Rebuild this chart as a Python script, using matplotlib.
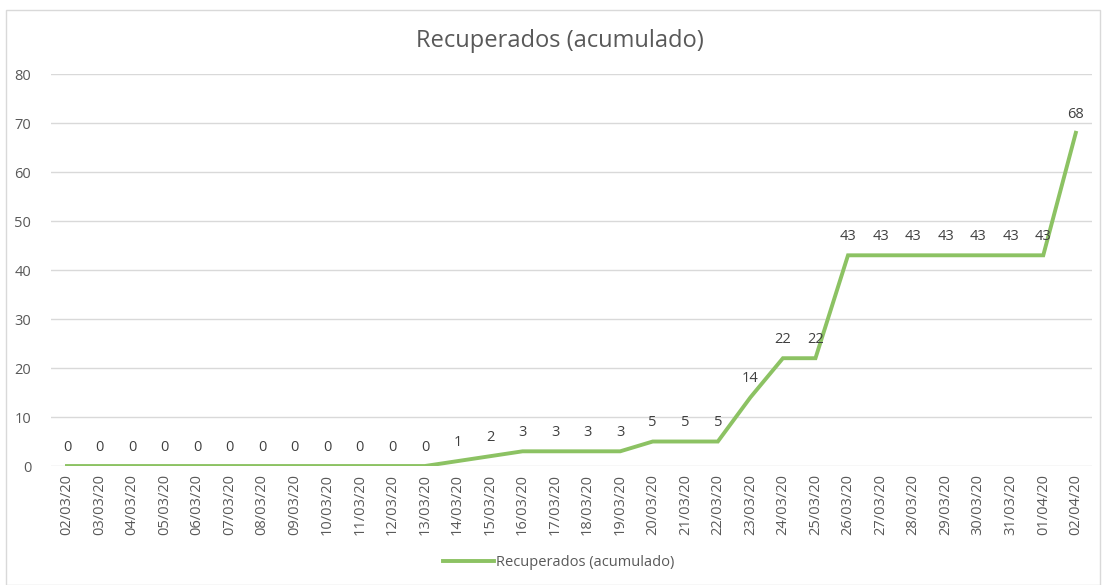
import numpy as np
import matplotlib.pyplot as plt
from matplotlib.patches import Rectangle

# Datos
fechas = ['02/03/20', '03/03/20', '04/03/20', '05/03/20', '06/03/20', '07/03/20',
          '08/03/20', '09/03/20', '10/03/20', '11/03/20', '12/03/20', '13/03/20',
          '14/03/20', '15/03/20', '16/03/20', '17/03/20', '18/03/20', '19/03/20',
          '20/03/20', '21/03/20', '22/03/20', '23/03/20', '24/03/20', '25/03/20',
          '26/03/20', '27/03/20', '28/03/20', '29/03/20', '30/03/20', '31/03/20',
          '01/04/20', '02/04/20']
recuperados = [0, 0, 0, 0, 0, 0, 0, 0, 0, 0, 0, 0,
               1, 2, 3, 3, 3, 3, 5, 5, 5, 14, 22, 22,
               43, 43, 43, 43, 43, 43, 43, 68]
serie = 'Recuperados (acumulado)'

plt.rcParams['font.family'] = ['Open Sans', 'DejaVu Sans']
gris = '#595959'
verde = '#8cc263'

fig = plt.figure(figsize=(11.02, 5.85), dpi=100)
ax = fig.add_axes([0.046, 0.2034, 0.945, 0.6701])

x = np.arange(len(fechas))
ax.plot(x, recuperados, color=verde, linewidth=2.8, label=serie,
        solid_joinstyle='miter')

for xi, v in zip(x, recuperados):
    ax.annotate(str(v), (xi, v), xytext=(0, 8), textcoords='offset points',
                ha='center', va='bottom', fontsize=10.5, color='#404040')

ax.set_xlim(-0.5, len(fechas) - 0.5)
ax.set_ylim(0, 80)
ax.set_yticks(range(0, 81, 10))
ax.set_xticks(x)
ax.set_xticklabels(fechas, rotation=90, fontsize=10.5, color=gris)
ax.tick_params(axis='y', labelsize=10.5, labelcolor=gris, length=0, pad=14)
ax.tick_params(axis='x', length=0, pad=6)
ax.grid(axis='y', color='#d9d9d9', linewidth=1)
ax.set_axisbelow(True)
for s in ax.spines.values():
    s.set_visible(False)

fig.text(0.508, 0.93, serie, ha='center', va='center', fontsize=17, color=gris)
fig.legend(loc='center', bbox_to_anchor=(0.507, 0.038), frameon=False,
           fontsize=10.5, labelcolor=gris, handlelength=3.5, handletextpad=0.1)

fig.patches.append(Rectangle((0.005, 0.0), 0.993, 0.983, transform=fig.transFigure,
                             fill=False, edgecolor='#d9d9d9', linewidth=1))

plt.savefig('out.png', dpi=100)
